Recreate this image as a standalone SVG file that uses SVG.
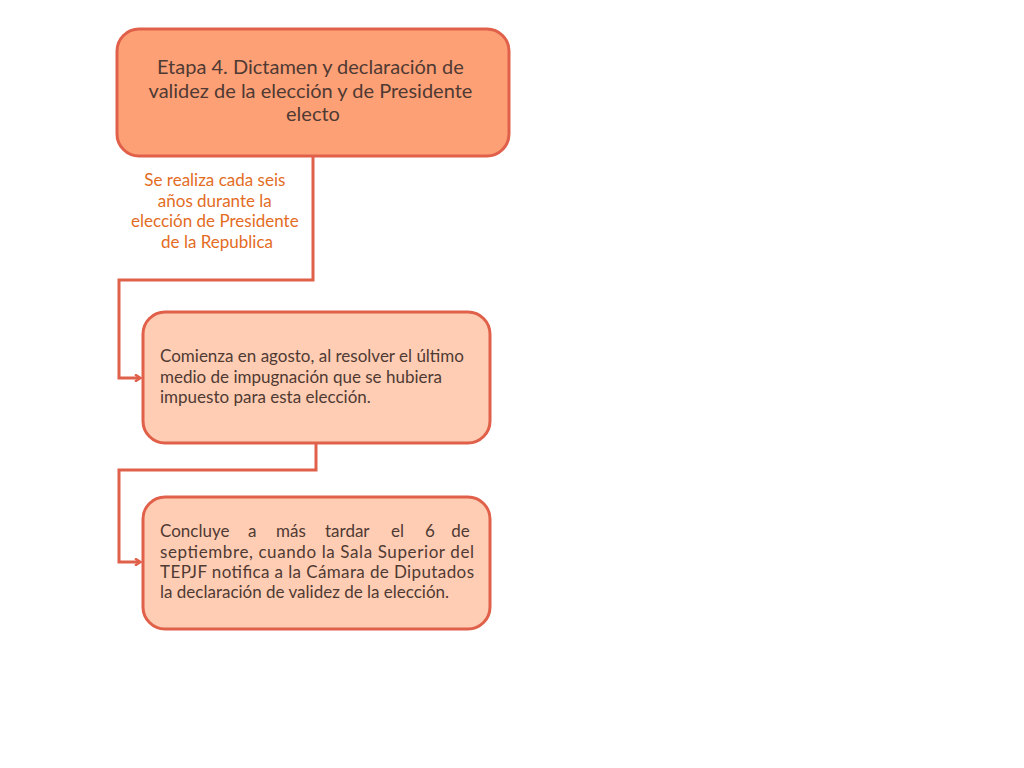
<svg xmlns="http://www.w3.org/2000/svg" width="1024" height="768" viewBox="0 0 1024 768">
<style>
.box{stroke:#E0604A;stroke-width:3}
.main{fill:#FEA076}
.sub{fill:#FFCDB3}
.t{font-family:Lato,"Open Sans","Noto Sans",sans-serif;fill:#4F3A33}
.lbl{font-family:Lato,"Open Sans","Noto Sans",sans-serif;fill:#E36C1F;font-size:17px}
.con{fill:none;stroke:#E0604A;stroke-width:3}
</style>
<defs>
<marker id="ar" markerWidth="8" markerHeight="8" refX="6" refY="4" orient="auto" markerUnits="userSpaceOnUse" viewBox="0 0 8 8">
<path d="M1,0.5 L6.5,4 L1,7.5" fill="none" stroke="#E0604A" stroke-width="2.5"/>
</marker>
</defs>
<rect width="1024" height="768" fill="#ffffff"/>
<g id="connectors">
<path class="con" d="M313,156 V280 H119 V378 H140" marker-end="url(#ar)"/>
<path class="con" d="M316,443 V470 H119 V562 H140" marker-end="url(#ar)"/>
</g>
<g id="label">
<text class="lbl" text-anchor="middle">
<tspan x="217" y="186">Se realiza cada seis</tspan>
<tspan x="217" y="207">años durante la</tspan>
<tspan x="217" y="227">elección de Presidente</tspan>
<tspan x="217" y="248">de la Republica</tspan>
</text>
</g>
<g id="node1">
<rect class="box main" x="117" y="29" width="392" height="127" rx="22"/>
<text class="t" font-size="20" text-anchor="middle">
<tspan x="313" y="74">Etapa 4. Dictamen y declaración de</tspan>
<tspan x="313" y="98">validez de la elección y de Presidente</tspan>
<tspan x="313" y="121">electo</tspan>
</text>
</g>
<g id="node2">
<rect class="box sub" x="143" y="312" width="347" height="131" rx="22"/>
<text class="t" font-size="17">
<tspan x="160" y="362">Comienza en agosto, al resolver el último</tspan>
<tspan x="160" y="383">medio de impugnación que se hubiera</tspan>
<tspan x="160" y="403">impuesto para esta elección.</tspan>
</text>
</g>
<g id="node3">
<rect class="box sub" x="143" y="497" width="347" height="132" rx="22"/>
<text class="t" font-size="17">
<tspan x="160" y="537">Concluye</tspan><tspan x="248" y="537">a</tspan><tspan x="276" y="537">más</tspan><tspan x="325" y="537">tardar</tspan><tspan x="391" y="537">el</tspan><tspan x="425" y="537">6</tspan><tspan x="474" y="537" text-anchor="end">de</tspan>
<tspan x="160" y="558" textLength="314" lengthAdjust="spacing">septiembre, cuando la Sala Superior del</tspan>
<tspan x="160" y="578" textLength="314" lengthAdjust="spacing">TEPJF notifica a la Cámara de Diputados</tspan>
<tspan x="160" y="598">la declaración de validez de la elección.</tspan>
</text>
</g>
</svg>
